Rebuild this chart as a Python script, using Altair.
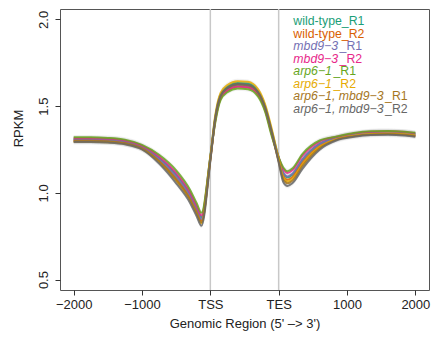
import altair as alt
import pandas as pd

# x positions in layout units: -2000=0, -1000=1, TSS=2, TES=3, 1000=4, 2000=5
X = [0, 0.25, 0.5, 0.75, 1.0, 1.25, 1.5, 1.7, 1.8, 1.87, 2.0, 2.07, 2.15, 2.25, 2.4, 2.55,
     2.7, 2.8, 2.9, 3.0, 3.07, 3.13, 3.2, 3.35, 3.6, 3.85, 4.1, 4.35, 4.6, 4.85, 5.0]

SERIES = ["wild-type_R1", "wild-type_R2", "mbd9-3_R1", "mbd9-3_R2",
          "arp6-1_R1", "arp6-1_R2", "arp6-1, mbd9-3_R1", "arp6-1, mbd9-3_R2"]
COLORS = ["#1b9e77", "#d95f02", "#7570b3", "#e7298a",
          "#66a61e", "#e6ab02", "#a6761d", "#666666"]

WT_R1 = [1.310, 1.310, 1.307, 1.297, 1.267, 1.203, 1.105, 0.995, 0.915, 0.860, 1.211, 1.432, 1.567, 1.612, 1.634, 1.630,
         1.587, 1.502, 1.357, 1.204, 1.110, 1.090, 1.105, 1.190, 1.282, 1.320, 1.340, 1.350, 1.352, 1.348, 1.341]
WT_R2 = [1.300, 1.300, 1.297, 1.287, 1.257, 1.188, 1.085, 0.975, 0.895, 0.840, 1.191, 1.412, 1.547, 1.592, 1.614, 1.610,
         1.567, 1.482, 1.337, 1.186, 1.095, 1.075, 1.090, 1.175, 1.270, 1.310, 1.330, 1.340, 1.342, 1.338, 1.331]
MBD_R1 = [1.305, 1.305, 1.302, 1.292, 1.262, 1.195, 1.095, 0.985, 0.905, 0.850, 1.199, 1.417, 1.552, 1.597, 1.619, 1.615,
          1.572, 1.487, 1.342, 1.199, 1.115, 1.095, 1.110, 1.195, 1.282, 1.315, 1.335, 1.345, 1.347, 1.343, 1.336]
MBD_R2 = [1.315, 1.315, 1.312, 1.302, 1.272, 1.210, 1.115, 1.005, 0.925, 0.870, 1.205, 1.410, 1.545, 1.590, 1.612, 1.608,
          1.565, 1.480, 1.335, 1.205, 1.135, 1.115, 1.130, 1.215, 1.296, 1.323, 1.343, 1.353, 1.355, 1.351, 1.344]
ARP_R1 = [1.320, 1.320, 1.317, 1.307, 1.277, 1.220, 1.130, 1.020, 0.940, 0.885, 1.208, 1.400, 1.535, 1.580, 1.602, 1.598,
          1.555, 1.470, 1.325, 1.205, 1.145, 1.125, 1.140, 1.225, 1.302, 1.325, 1.345, 1.355, 1.357, 1.353, 1.346]
ARP_R2 = [1.295, 1.295, 1.292, 1.282, 1.252, 1.178, 1.070, 0.960, 0.880, 0.825, 1.200, 1.442, 1.577, 1.622, 1.644, 1.640,
          1.597, 1.512, 1.367, 1.196, 1.085, 1.065, 1.080, 1.165, 1.265, 1.310, 1.330, 1.340, 1.342, 1.338, 1.331]
DBL_R1 = [1.300, 1.300, 1.297, 1.287, 1.257, 1.183, 1.075, 0.965, 0.885, 0.830, 1.192, 1.423, 1.558, 1.603, 1.625, 1.621,
          1.578, 1.493, 1.348, 1.182, 1.075, 1.055, 1.070, 1.155, 1.258, 1.307, 1.327, 1.337, 1.339, 1.335, 1.328]
DBL_R2 = [1.293, 1.293, 1.290, 1.280, 1.250, 1.169, 1.055, 0.945, 0.865, 0.810, 1.183, 1.425, 1.560, 1.605, 1.627, 1.623,
          1.580, 1.495, 1.350, 1.175, 1.060, 1.040, 1.055, 1.140, 1.249, 1.303, 1.323, 1.333, 1.335, 1.331, 1.324]

TICK_POS = [0, 1, 2, 3, 4, 5]
TICK_LABELS = ["\u22122000", "\u22121000", "TSS", "TES", "1000", "2000"]
Y_TICKS = [0.5, 1.0, 1.5, 2.0]
VLINES = [2, 3]

LEG_PREFIX = ["wild-type_R1", "wild-type_R2", "mbd9\u22123", "mbd9\u22123",
              "arp6\u22121", "arp6\u22121", "arp6\u22121, mbd9\u22123", "arp6\u22121, mbd9\u22123"]
LEG_SUFFIX = ["", "", "_R1", "_R2", "_R1", "_R2", "_R1", "_R2"]
LEG_ITALIC = [False, False, True, True, True, True, True, True]

# ---- layout / style ----
W, H = 369, 281
XDOM = [-0.2, 5.2]
YDOM = [0.44, 2.06]
FONT = "Liberation Sans"
FS = 12.3
LEG_X0 = 293.3 - 60      # pixel offset from plot left
LEG_Y0 = 21.2 - 9        # pixel offset from plot top
LEG_STEP = 12.5
SUFFIX_GAP = 1.5

ARIAL = {'w': 722, 'i': 222, 'l': 222, 'd': 556, '-': 333, 't': 278, 'y': 500, 'p': 556,
         'e': 556, 'm': 833, 'b': 556, '9': 556, '\u2212': 584, '3': 556, 'a': 556, 'r': 333,
         '6': 556, '1': 556, ',': 278, ' ': 278, '_': 556, 'R': 722, '2': 556}


def text_w(s):
    return sum(ARIAL.get(c, 556) for c in s) * FS / 1000.0


def px_to_x(px):
    return XDOM[0] + px / W * (XDOM[1] - XDOM[0])


def px_to_y(py):
    return YDOM[1] - py / H * (YDOM[1] - YDOM[0])


rows = []
for name, vals in zip(SERIES, [WT_R1, WT_R2, MBD_R1, MBD_R2, ARP_R1, ARP_R2, DBL_R1, DBL_R2]):
    for x, v in zip(X, vals):
        rows.append({"series": name, "x": x, "v": v})
df = pd.DataFrame(rows)
df["lo"] = df["v"] - 0.014
df["hi"] = df["v"] + 0.014

leg_rows = []
for i, (s, p, suf, it) in enumerate(zip(SERIES, LEG_PREFIX, LEG_SUFFIX, LEG_ITALIC)):
    py = LEG_Y0 + i * LEG_STEP
    leg_rows.append({"series": s, "prefix": p, "suffix": suf, "italic": it,
                     "lx": px_to_x(LEG_X0), "sx": px_to_x(LEG_X0 + text_w(p) + SUFFIX_GAP),
                     "ly": px_to_y(py)})
leg = pd.DataFrame(leg_rows)

xs = alt.Scale(domain=XDOM, nice=False, zero=False)
ys = alt.Scale(domain=YDOM, nice=False, zero=False)
label_expr = "[" + ",".join("'" + t + "'" for t in TICK_LABELS) + "][datum.value]"

xaxis = alt.Axis(values=TICK_POS, labelExpr=label_expr, title="Genomic Region (5' \u2013> 3')",
                 grid=False, domain=False, tickSize=5, tickColor="#333", labelFontSize=13,
                 titleFontSize=13, labelPadding=3, titlePadding=6, labelColor="#222",
                 titleColor="#222", labelFont=FONT, titleFont=FONT, titleFontWeight="normal")
yaxis = alt.Axis(values=Y_TICKS, format=".1f", title="RPKM", grid=False, domain=False,
                 tickSize=5, tickColor="#333", labelFontSize=13, titleFontSize=13,
                 labelAngle=-90, labelAlign="center", labelBaseline="bottom", labelPadding=5,
                 titlePadding=12, titleY=119, labelColor="#222", titleColor="#222", labelFont=FONT,
                 titleFont=FONT, titleFontWeight="normal")

color = alt.Color("series:N", scale=alt.Scale(domain=SERIES, range=COLORS), legend=None)

vlines = alt.Chart(pd.DataFrame({"x": VLINES})).mark_rule(color="#c8c8c8", strokeWidth=1.5).encode(
    x=alt.X("x:Q", scale=xs, axis=xaxis))

bands = alt.Chart(df).mark_area(color="#777", opacity=0.10, interpolate="monotone").encode(
    x=alt.X("x:Q", scale=xs, axis=xaxis),
    y=alt.Y("lo:Q", scale=ys, axis=yaxis),
    y2="hi:Q",
    detail="series:N")

lines = alt.Chart(df).mark_line(strokeWidth=2, opacity=0.85, interpolate="monotone").encode(
    x=alt.X("x:Q", scale=xs, axis=xaxis),
    y=alt.Y("v:Q", scale=ys, axis=yaxis),
    color=color)

leg_normal = alt.Chart(leg).transform_filter("!datum.italic").mark_text(
    align="left", baseline="middle", fontSize=FS, font=FONT).encode(
    x=alt.X("lx:Q", scale=xs, axis=xaxis), y=alt.Y("ly:Q", scale=ys, axis=yaxis),
    text="prefix:N", color=color)

leg_italic = alt.Chart(leg).transform_filter("datum.italic").mark_text(
    align="left", baseline="middle", fontSize=FS, font=FONT, fontStyle="italic").encode(
    x=alt.X("lx:Q", scale=xs, axis=xaxis), y=alt.Y("ly:Q", scale=ys, axis=yaxis),
    text="prefix:N", color=color)

leg_suffix = alt.Chart(leg).transform_filter("datum.italic").mark_text(
    align="left", baseline="middle", fontSize=FS, font=FONT).encode(
    x=alt.X("sx:Q", scale=xs, axis=xaxis), y=alt.Y("ly:Q", scale=ys, axis=yaxis),
    text="suffix:N", color=color)

chart = alt.layer(vlines, bands, lines, leg_normal, leg_italic, leg_suffix).properties(
    width=W, height=H,
    padding={"left": 52, "top": 1, "right": 2, "bottom": 45},
    autosize=alt.AutoSizeParams(type="none"),
    background="white",
).configure_view(stroke="#555", strokeWidth=1)

chart.save("out.html", embed_options={"renderer": "svg", "actions": False})
